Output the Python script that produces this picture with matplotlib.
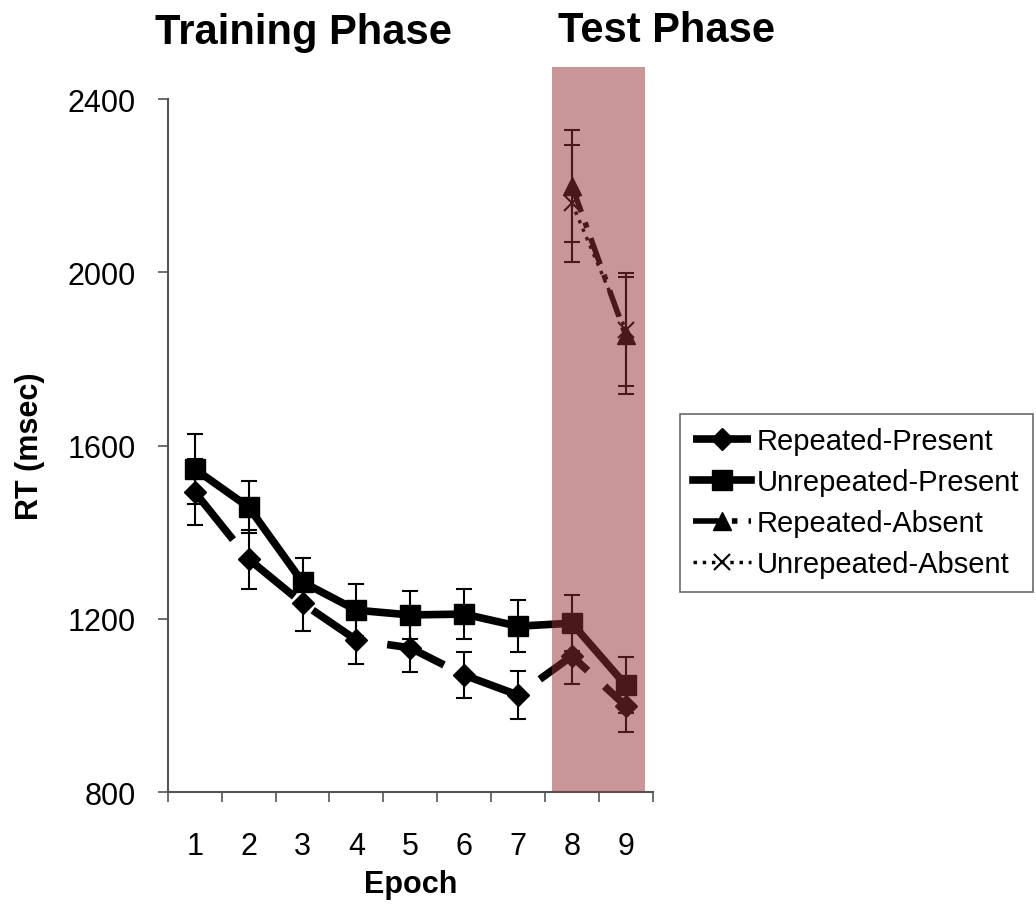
import numpy as np
import matplotlib
matplotlib.use("Agg")
import matplotlib.pyplot as plt
from matplotlib.patches import Rectangle

plt.rcParams['font.family'] = ['Liberation Sans', 'DejaVu Sans']

# data
epochs = [1, 2, 3, 4, 5, 6, 7, 8, 9]
rep_present = [1493, 1338, 1236, 1151, 1133, 1070, 1024, 1114, 999]
rep_present_err = [76, 68, 63, 55, 55, 53, 55, 65, 60]
unrep_present = [1546, 1458, 1285, 1220, 1209, 1211, 1183, 1190, 1047]
unrep_present_err = [80, 60, 55, 60, 55, 58, 60, 65, 65]
test_epochs = [8, 9]
rep_absent = [2200, 1855]
rep_absent_err = [130, 135]
unrep_absent = [2160, 1868]
unrep_absent_err = [135, 130]

fig = plt.figure(figsize=(10.36, 9.2), dpi=100)
ax = fig.add_axes([0.162, 0.138, 0.468, 0.753])

eb = dict(elinewidth=1.5, capsize=6, capthick=1.5, ecolor='black')

l1 = ax.errorbar(epochs, rep_present, yerr=rep_present_err, color='black', lw=5.5,
                 marker='D', ms=11, dashes=(8, 3), label='Repeated-Present', **eb)
l2 = ax.errorbar(epochs, unrep_present, yerr=unrep_present_err, color='black', lw=5.5,
                 marker='s', ms=15, label='Unrepeated-Present', **eb)
l3 = ax.errorbar(test_epochs, rep_absent, yerr=rep_absent_err, color='black', lw=4,
                 marker='^', ms=13, dashes=(5, 2, 1, 2), label='Repeated-Absent', **eb)
l4 = ax.errorbar(test_epochs, unrep_absent, yerr=unrep_absent_err, color='black', lw=2.5,
                 marker='x', ms=12, mew=1.5, ls=':', label='Unrepeated-Absent', **eb)

# test phase shading, drawn over the lines
ax.add_patch(Rectangle((7.64, 800), 1.71, 1674, facecolor=(148/255, 49/255, 49/255),
                       alpha=0.506, edgecolor='none', zorder=10, clip_on=False))

ax.set_xlim(0.5, 9.5)
ax.set_ylim(800, 2400)
ax.set_yticks([800, 1200, 1600, 2000, 2400])
ax.set_xticks(epochs)
ax.set_xticks(np.arange(0.5, 10, 1), minor=True)
ax.tick_params(axis='x', which='major', length=0, labelsize=22, pad=28)
ax.tick_params(axis='x', which='minor', length=7, width=1.2, color='#555555')
ax.tick_params(axis='y', length=7, width=1.2, color='#555555', labelsize=22, pad=16)
for s in ['top', 'right']:
    ax.spines[s].set_visible(False)
for s in ['left', 'bottom']:
    ax.spines[s].set_color('#555555')
    ax.spines[s].set_linewidth(1.5)

ax.set_xlabel('Epoch', fontsize=22, fontweight='bold', labelpad=6)
ax.set_ylabel('RT (msec)', fontsize=22, fontweight='bold', labelpad=16)

fig.text(303 / 1036, 1 - 33 / 920, 'Training Phase', ha='center', va='center',
         fontsize=30, fontweight='bold')
fig.text(667 / 1036, 1 - 31 / 920, 'Test Phase', ha='center', va='center',
         fontsize=30, fontweight='bold')

handles = [l1[0], l2[0], l3[0], l4[0]]
labels = ['Repeated-Present', 'Unrepeated-Present', 'Repeated-Absent', 'Unrepeated-Absent']
leg = fig.legend(handles, labels, loc='upper left',
                 bbox_to_anchor=(0.656, 0.549), bbox_transform=fig.transFigure,
                 borderaxespad=0, fontsize=21, fancybox=False, edgecolor='#444444',
                 handlelength=2.0, handletextpad=0.2, labelspacing=0.45, borderpad=0.45)
leg.get_frame().set_linewidth(1.2)

fig.savefig('out.png', dpi=100)
